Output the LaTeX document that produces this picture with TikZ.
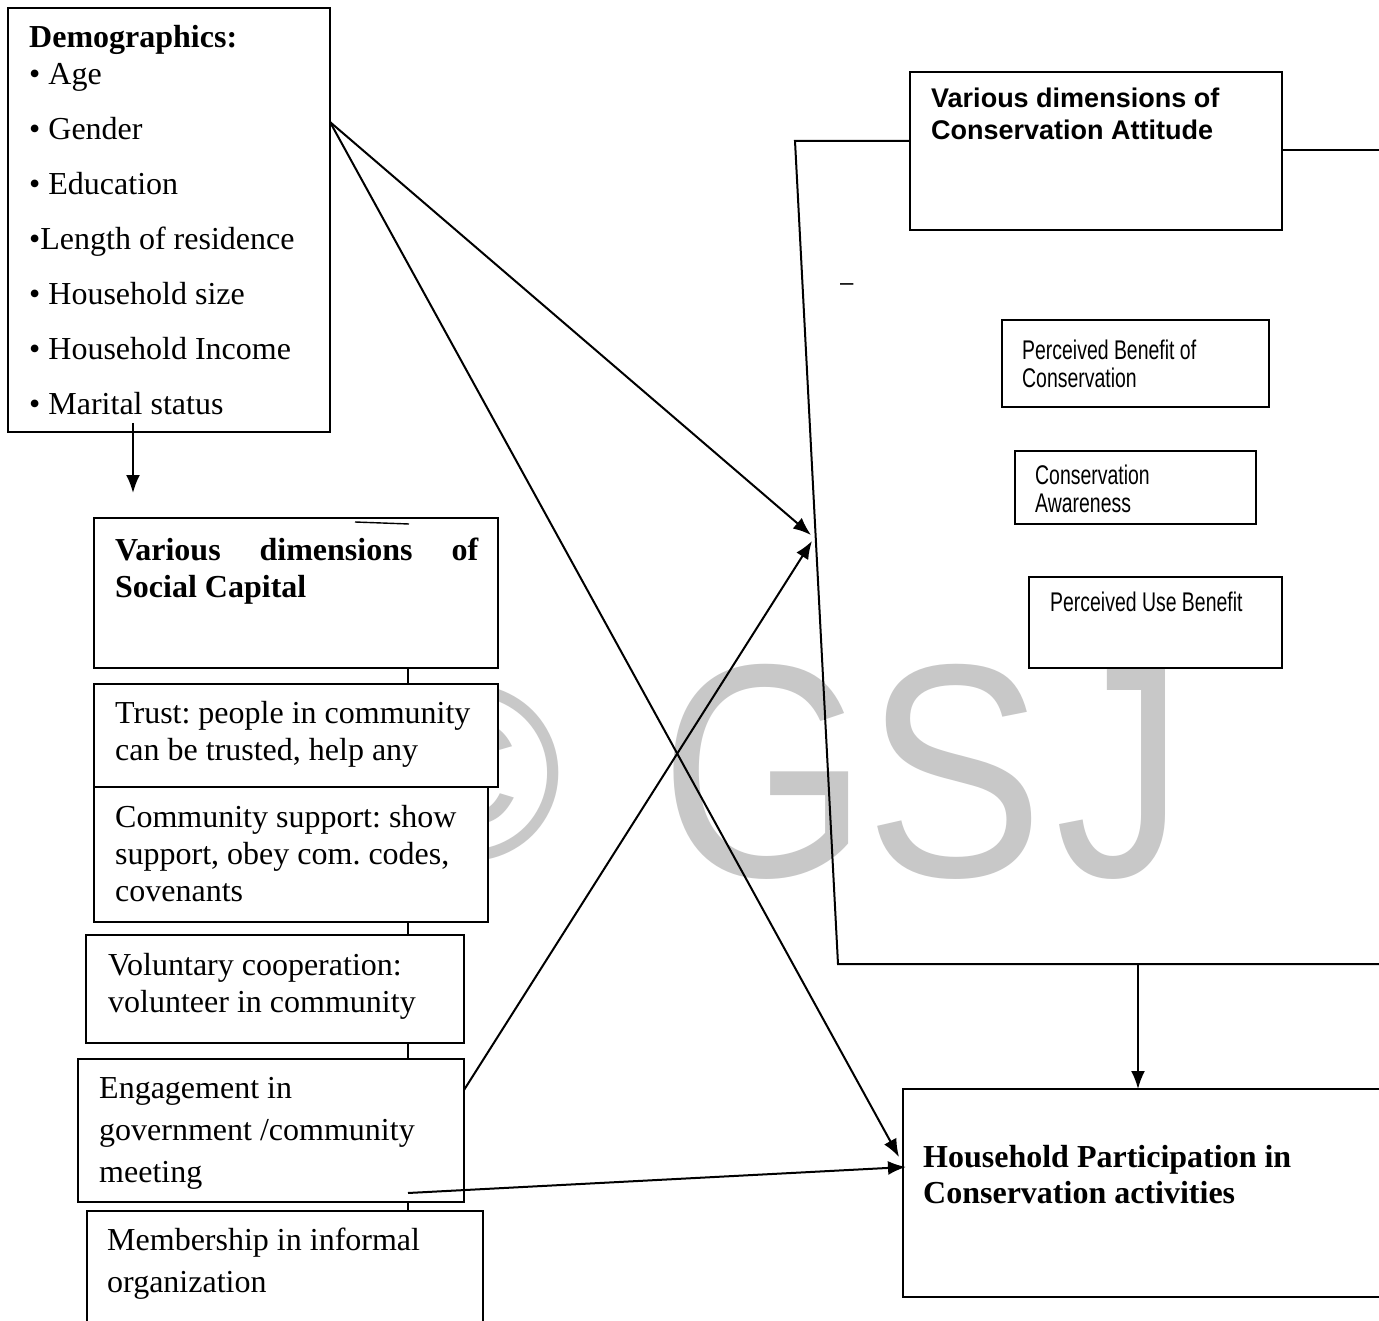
\documentclass[tikz,border=0pt]{standalone}
\usepackage{fontspec}
\setmainfont{Liberation Serif}
\newfontfamily\arialf{Liberation Sans}
\newfontfamily\narrowf{Liberation Sans}[FakeStretch=0.72]
\usetikzlibrary{arrows.meta}
\definecolor{wmgray}{RGB}{200,200,200}
\frenchspacing
\begin{document}
\begin{tikzpicture}[x=1pt,y=-1pt,
  box/.style={draw, line width=2pt, fill=white, inner sep=0pt, outer sep=0pt, anchor=north west},
  txt/.style={anchor=base west, inner sep=0pt, font=\fontsize{32}{32}\selectfont},
  btxt/.style={anchor=base west, inner sep=0pt, font=\fontsize{32}{32}\selectfont\bfseries},
  atxt/.style={anchor=base west, inner sep=0pt, font=\arialf\bfseries\fontsize{27}{27}\selectfont},
  ntxt/.style={anchor=base west, inner sep=0pt, font=\narrowf\fontsize{27}{27}\selectfont},
  wm/.style={anchor=base west, inner sep=0pt, text=wmgray, font=\arialf\fontsize{304}{304}\selectfont},
  conn/.style={line width=2pt},
  arr/.style={line width=2pt, -{Latex[length=18pt,width=14pt]}}
]
\clip (0,0) rectangle (1379,1321);
\fill[white] (0,0) rectangle (1379,1321);

% watermark
\node[wm, font=\arialf\fontsize{250}{250}\selectfont] (wmc) at (378,859) {©};
\node[wm] (wmg) at (660,876) {\scalebox{0.88}[1]{G}};
\node[wm] (wms) at (865,876) {\scalebox{0.88}[1]{S}};
\node[wm] (wmj) at (1055,876) {\scalebox{0.85}[1]{J}};

% left column boxes
\node[box, minimum width=322pt, minimum height=424pt] (demo) at (8,8) {};
\node[box, minimum width=404pt, minimum height=150pt] (sc) at (94,518) {};
\node[box, minimum width=404pt, minimum height=103pt] (trust) at (94,684) {};
\node[box, minimum width=394pt, minimum height=135pt] (comm) at (94,787) {};
\node[box, minimum width=378pt, minimum height=108pt] (vol) at (86,935) {};
\node[box, minimum width=386pt, minimum height=143pt] (eng) at (78,1059) {};
\node[box, minimum width=396pt, minimum height=140pt] (mem) at (87,1211) {};

% right column boxes
\node[box, minimum width=372pt, minimum height=158pt] (att) at (910,72) {};
\node[box, minimum width=267pt, minimum height=87pt] (pb) at (1002,320) {};
\node[box, minimum width=241pt, minimum height=73pt] (ca) at (1015,451) {};
\node[box, minimum width=253pt, minimum height=91pt] (pub) at (1029,577) {};
\node[box, minimum width=520pt, minimum height=208pt] (hh) at (903,1089) {};

% demographics text
\node[btxt] (tdemo) at (29,48) {Demographics:};
\node[txt] (tage) at (29,85) {• Age};
\node[txt] (tgen) at (29,140) {• Gender};
\node[txt] (tedu) at (29,195) {• Education};
\node[txt] (tlen) at (29,250) {•Length of residence};
\node[txt] (thhs) at (29,305) {• Household size};
\node[txt] (thhi) at (29,360) {• Household Income};
\node[txt] (tmar) at (29,415) {• Marital status};

% social capital text
\node[btxt] (tsc1) at (115,560) {\makebox[363pt][s]{Various dimensions of}};
\node[btxt] (tsc2) at (115,597) {Social Capital};
\coordinate (ol1) at (355,522);
\coordinate (ol2) at (409,524);
\draw[line width=1.4pt] (ol1) -- (ol2);

\node[txt] (ttr1) at (115,723) {Trust: people in community};
\node[txt] (ttr2) at (115,760) {can be trusted, help any};

\node[txt] (tcm1) at (115,827) {Community support: show};
\node[txt] (tcm2) at (115,864) {support, obey com. codes,};
\node[txt] (tcm3) at (115,901) {covenants};

\node[txt] (tvo1) at (108,975) {Voluntary cooperation:};
\node[txt] (tvo2) at (108,1012) {volunteer in community};

\node[txt] (ten1) at (99,1098) {Engagement in};
\node[txt] (ten2) at (99,1140) {government /community};
\node[txt] (ten3) at (99,1182) {meeting};

\node[txt] (tme1) at (107,1250) {Membership in informal};
\node[txt] (tme2) at (107,1292) {organization};

% right texts
\node[atxt] (tat1) at (931,108) {Various dimensions of};
\node[atxt] (tat2) at (931,140) {Conservation Attitude};
\node[anchor=base west, inner sep=0pt, font=\arialf\fontsize{24}{24}\selectfont] (tdash) at (840,291) {–};
\node[ntxt] (tpb1) at (1022,360) {Perceived Benefit of};
\node[ntxt] (tpb2) at (1022,388) {Conservation};
\node[ntxt] (tca1) at (1035,484) {Conservation};
\node[ntxt] (tca2) at (1035,512) {Awareness};
\node[ntxt] (tpu1) at (1050,611) {Perceived Use Benefit};

\node[btxt] (thh1) at (923,1167) {Household Participation in};
\node[btxt] (thh2) at (923,1203) {Conservation activities};

% coordinates
\coordinate (sp) at (408,0);
\coordinate (dx) at (133,493);
\coordinate (dout) at (330,122);
\coordinate (t1) at (811,535);
\coordinate (t2) at (812,541);
\coordinate (t3) at (899,1157);
\coordinate (t4) at (906,1167);
\coordinate (bl) at (795,141);
\coordinate (bb) at (838,964);
\coordinate (br) at (1138,964);
\coordinate (bre) at (1400,964);
\coordinate (rre) at (1400,150);

% spine connectors
\draw[conn] (sc.south -| sp) -- (trust.north -| sp);
\draw[conn] (comm.south -| sp) -- (vol.north -| sp);
\draw[conn] (vol.south -| sp) -- (eng.north -| sp);
\draw[conn] (eng.south -| sp) -- (mem.north -| sp);

% demographics down arrow
\draw[arr] ([yshift=9pt]demo.south -| dx) -- (dx);

% bracket of attitude
\draw[conn] (att.west |- bl) -- (bl) -- (bb) -- (bre);
\draw[conn] (att.east |- rre) -- (rre);
\draw[arr] (br) -- (hh.north -| br);

% arrows
\draw[arr] (dout) -- (t1);
\draw[arr] (dout) -- (t3);
\draw[arr] (eng.east |- 0,1090) -- (t2);
\draw[arr] ([yshift=9pt]eng.south -| sp) -- (t4);
\end{tikzpicture}
\end{document}
